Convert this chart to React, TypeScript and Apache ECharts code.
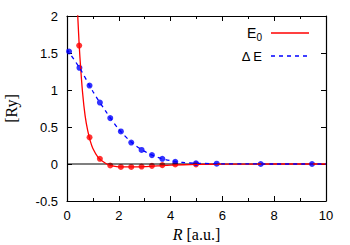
import React, { useEffect, useRef } from "react";
import * as echarts from "echarts";

const e0FitX = [0.35, 0.4, 0.45, 0.5, 0.6, 0.7, 0.8, 0.9, 1.0, 1.2, 1.4, 1.6, 1.8, 2.0, 2.5, 3.0, 3.5, 4.0, 5.0, 6.0, 8.0, 10.0];
const e0FitY = [2.6, 2.12, 1.75, 1.44, 0.97, 0.65, 0.45, 0.31, 0.21, 0.09, 0.03, -0.01, -0.03, -0.04, -0.04, -0.035, -0.025, -0.015, -0.006, -0.002, 0, 0];

const e0PtX = [0.47, 0.87, 1.27, 1.67, 2.08, 2.48, 2.88, 3.28, 3.68, 4.18, 4.98];
const e0PtY = [1.6, 0.36, 0.07, -0.02, -0.04, -0.04, -0.035, -0.025, -0.015, -0.006, -0.005];

const dEFitX = [0, 0.5, 1.0, 1.5, 2.0, 2.5, 3.0, 3.5, 4.0, 4.5, 5.0, 6.0, 7.0, 8.0, 10.0];
const dEFitY = [1.55, 1.29, 0.98, 0.71, 0.47, 0.29, 0.17, 0.09, 0.045, 0.02, 0.01, 0.003, 0.001, 0, 0];

const dEPtX = [0.08, 0.48, 0.87, 1.27, 1.67, 2.08, 2.48, 2.88, 3.28, 3.68, 4.18, 4.98, 5.78, 7.48, 9.46];
const dEPtY = [1.52, 1.3, 1.06, 0.83, 0.62, 0.44, 0.29, 0.19, 0.12, 0.07, 0.03, 0.01, 0.004, 0, 0];

const zeroX = [0, 10];
const zeroY = [0, 0];

const zip = (xs: number[], ys: number[]) => xs.map((x, i) => [x, ys[i]]);

const SANS = "'Liberation Sans', Arial, sans-serif";
const SERIF = "'Liberation Serif', 'Times New Roman', serif";

export default function App() {
  const ref = useRef<HTMLDivElement>(null);
  useEffect(() => {
    document.body.style.margin = "0";
    const chart = echarts.init(ref.current!, null, { renderer: "svg" });
    const tickCommon = {
      axisLine: { show: true, onZero: false, lineStyle: { color: "#000", width: 1.2 } },
      axisTick: { show: true, inside: true, length: 5, lineStyle: { color: "#000", width: 1 } },
      splitLine: { show: false },
    };
    chart.setOption({
      animation: false,
      backgroundColor: "#fff",
      grid: { left: 67, top: 16, width: 259, height: 185, containLabel: false, outerBoundsMode: "none" },
      xAxis: [
        {
          type: "value", min: 0, max: 10, interval: 2, position: "bottom",
          ...tickCommon,
          minorTick: { show: true, splitNumber: 2, length: 3, lineStyle: { color: "#000" } },
          axisLabel: { fontFamily: SANS, fontSize: 13, color: "#000", margin: 8 },
          name: "{i|R} [a.u.]",
          nameLocation: "middle",
          nameGap: 24,
          nameTextStyle: {
            fontFamily: SERIF, fontSize: 16, color: "#000",
            rich: { i: { fontFamily: SERIF, fontStyle: "italic", fontSize: 16, color: "#000" } },
          },
        },
        {
          type: "value", min: 0, max: 10, interval: 2, position: "top",
          ...tickCommon,
          minorTick: { show: true, splitNumber: 2, length: 3, lineStyle: { color: "#000" } },
          axisLabel: { show: false },
        },
      ],
      yAxis: [
        {
          type: "value", min: -0.5, max: 2, interval: 0.5, position: "left",
          ...tickCommon,
          axisLabel: { fontFamily: SANS, fontSize: 13, color: "#000", margin: 9 },
          name: "[Ry]",
          nameLocation: "middle",
          nameGap: 48,
          nameRotate: 90,
          nameTextStyle: { fontFamily: SERIF, fontSize: 16, color: "#000" },
        },
        {
          type: "value", min: -0.5, max: 2, interval: 0.5, position: "right",
          ...tickCommon,
          axisLabel: { show: false },
        },
      ],
      series: [
        {
          type: "line", data: zip(zeroX, zeroY), symbol: "none", silent: true,
          lineStyle: { color: "#000", width: 1.2 },
        },
        {
          name: "E0 fit", type: "line", data: zip(e0FitX, e0FitY), symbol: "none", smooth: 0.3,
          lineStyle: { color: "#ff0000", width: 1.3 }, clip: true,
        },
        {
          name: "dE fit", type: "line", data: zip(dEFitX, dEFitY), symbol: "none", smooth: 0.3,
          lineStyle: { color: "#0000ff", width: 1.3, type: [4, 4] }, clip: true,
        },
        {
          name: "E0", type: "scatter", data: zip(e0PtX, e0PtY), symbolSize: 6,
          itemStyle: { color: "#ff0000" },
        },
        {
          name: "dE", type: "scatter", data: zip(dEPtX, dEPtY), symbolSize: 6,
          itemStyle: { color: "#0000ff" },
        },
      ],
      graphic: [
        {
          type: "text", x: 262, y: 33,
          style: {
            text: "E{sub|0}", align: "right", verticalAlign: "middle",
            font: `14px ${SANS}`, fill: "#000",
            rich: { sub: { fontSize: 10, fontFamily: SANS, verticalAlign: "bottom", padding: [8, 0, 0, 0] } },
          },
        },
        { type: "line", shape: { x1: 271, y1: 33, x2: 309, y2: 33 }, style: { stroke: "#ff0000", lineWidth: 1.3 } },
        {
          type: "text", x: 262, y: 56,
          style: { text: "Δ E", align: "right", verticalAlign: "middle", font: `13px ${SANS}`, fill: "#000" },
        },
        { type: "line", shape: { x1: 271, y1: 56, x2: 309, y2: 56 }, style: { stroke: "#0000ff", lineWidth: 1.3, lineDash: [4, 4] } },
      ],
    });
    return () => chart.dispose();
  }, []);
  return <div ref={ref} style={{ width: 350, height: 245, position: "absolute", left: 0, top: 0 }} />;
}
